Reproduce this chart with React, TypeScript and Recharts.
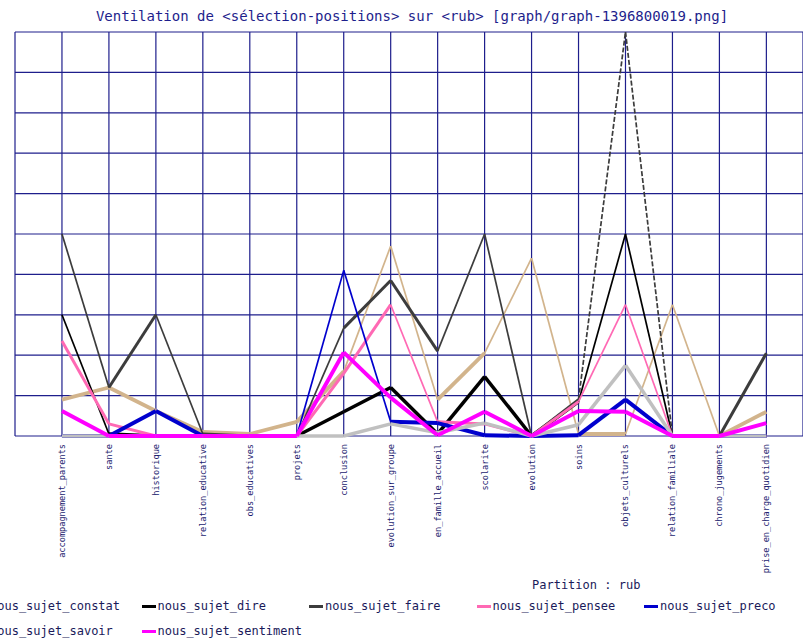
import React from 'react';
import { LineChart, Line, XAxis, YAxis, CartesianGrid } from 'recharts';

const categories = [
  'accompagnement_parents',
  'sante',
  'historique',
  'relation_educative',
  'obs_educatives',
  'projets',
  'conclusion',
  'evolution_sur_groupe',
  'en_famille_accueil',
  'scolarite',
  'evolution',
  'soins',
  'objets_culturels',
  'relation_familiale',
  'chrono_jugements',
  'prise_en_charge_quotidien',
];

const constat = [0.9, 1.2, 0.62, 0.1, 0.05, 0.35, 1.6, 4.7, 0.9, 2.05, 4.4, 0.05, 0.05, 3.25, 0, 0.6];
const dire = [3, 0.05, 0, 0, 0, 0, 0.6, 1.2, 0.05, 1.47, 0, 0.85, 5, 0, 0, 0];
const faire = [5, 1.2, 3, 0.05, 0, 0, 2.67, 3.85, 2.1, 5, 0, 0.9, 10, 0, 0, 2.05];
const pensee = [2.35, 0.3, 0, 0, 0, 0, 1.55, 3.25, 0.35, 0.3, 0, 0.85, 3.25, 0, 0, 0];
const preco = [0, 0, 0.62, 0, 0, 0, 4.1, 0.35, 0.32, 0.02, 0, 0.02, 0.9, 0, 0, 0];
const savoir = [0, 0, 0, 0, 0, 0, 0, 0.3, 0.08, 0.32, 0, 0.28, 1.75, 0, 0, 0];
const sentiment = [0.62, 0, 0, 0, 0, 0, 2.07, 0.95, 0.02, 0.6, 0, 0.62, 0.6, 0, 0, 0.32];

const yTicks = [0, 1, 2, 3, 4, 5, 6, 7, 8, 9, 10];

// one row per category, one column per series
const rows = categories.map((c, i) => ({
  x: i,
  category: c,
  constat: constat[i],
  dire: dire[i],
  faire: faire[i],
  pensee: pensee[i],
  preco: preco[i],
  savoir: savoir[i],
  sentiment: sentiment[i],
}));

// drawing styles: base width, thin segments (index of the segment's start), dashed segments
const series = [
  { key: 'constat', name: 'nous_sujet_constat', color: '#d2b48c', width: 3.8, thin: [6, 7, 9, 10, 12, 13], dashed: [] as number[] },
  { key: 'dire', name: 'nous_sujet_dire', color: '#000000', width: 3.5, thin: [0, 11, 12], dashed: [] },
  { key: 'faire', name: 'nous_sujet_faire', color: '#3c3c3c', width: 3, thin: [0, 2, 5, 8, 9, 11, 12], dashed: [11, 12] },
  { key: 'pensee', name: 'nous_sujet_pensee', color: '#ff69b4', width: 3, thin: [7, 11, 12], dashed: [] },
  { key: 'preco', name: 'nous_sujet_preco', color: '#0000cd', width: 4, thin: [5, 6], dashed: [] },
  { key: 'savoir', name: 'nous_sujet_savoir', color: '#c0c0c0', width: 3.5, thin: [], dashed: [] },
  { key: 'sentiment', name: 'nous_sujet_sentiment', color: '#ff00ff', width: 4, thin: [], dashed: [] },
];

const navy = '#1e1e8c';
const mono = '"DejaVu Sans Mono", monospace';

const CategoryTick = (props: any) => {
  const { x, y, payload } = props;
  const label = categories[payload.value] ?? '';
  const ty = y + 6;
  return (
    <text
      x={x}
      y={ty}
      transform={`rotate(-90 ${x} ${ty})`}
      textAnchor="end"
      dy="0.35em"
      fontFamily={mono}
      fontSize={8.6}
      fill="#1a1a6e"
    >
      {label}
    </text>
  );
};

const App = () => {
  const xTicks = [-1, ...categories.map((_, i) => i)];

  return (
    <div
      style={{
        position: 'absolute',
        left: 0,
        top: 0,
        width: 803,
        height: 641,
        overflow: 'hidden',
        background: '#fff',
      }}
    >
      <div
        style={{
          position: 'absolute',
          left: 0,
          top: 8,
          width: 824,
          textAlign: 'center',
          fontFamily: mono,
          fontSize: 14,
          color: navy,
          whiteSpace: 'nowrap',
        }}
      >
        Ventilation de &lt;sélection-positions&gt; sur &lt;rub&gt; [graph/graph-1396800019.png]
      </div>

      <div style={{ position: 'absolute', left: 0, top: 0 }}>
        <LineChart width={803} height={641} margin={{ top: 32, right: 0, bottom: 55, left: 15 }}>
          <CartesianGrid stroke={navy} strokeWidth={1.2} horizontalValues={yTicks} />
          <XAxis
            dataKey="x"
            type="number"
            domain={[-1, 15.78]}
            ticks={xTicks}
            interval={0}
            allowDataOverflow
            axisLine={false}
            tickLine={false}
            tickSize={0}
            height={150}
            tick={<CategoryTick />}
          />
          <YAxis type="number" domain={[0, 10]} ticks={yTicks} hide width={0} />
          {series.flatMap((s) =>
            categories.slice(0, -1).map((_, i) => (
              <Line
                key={`${s.key}-${i}`}
                data={rows.slice(i, i + 2)}
                dataKey={s.key}
                name={s.name}
                stroke={s.color}
                strokeWidth={s.thin.includes(i) ? 1.7 : s.width}
                strokeDasharray={s.dashed.includes(i) ? '5 2' : undefined}
                dot={false}
                activeDot={false}
                legendType="none"
                isAnimationActive={false}
              />
            ))
          )}
        </LineChart>
      </div>

      <div
        style={{
          position: 'absolute',
          left: 532,
          top: 578,
          fontFamily: mono,
          fontSize: 12,
          color: '#1a1a5a',
          whiteSpace: 'nowrap',
        }}
      >
        Partition : rub
      </div>

      {series.map((s, k) => {
        const col = k % 5;
        const row = Math.floor(k / 5);
        return (
          <div
            key={s.key}
            style={{
              position: 'absolute',
              left: -26 + col * 167.5,
              top: 599 + row * 25,
              display: 'flex',
              alignItems: 'center',
              fontFamily: mono,
              fontSize: 12,
              color: '#1a1a5a',
              whiteSpace: 'nowrap',
            }}
          >
            <span
              style={{
                display: 'inline-block',
                width: 14,
                height: 3,
                background: s.color,
                marginRight: 2,
              }}
            />
            {s.name}
          </div>
        );
      })}
    </div>
  );
};

export default App;
